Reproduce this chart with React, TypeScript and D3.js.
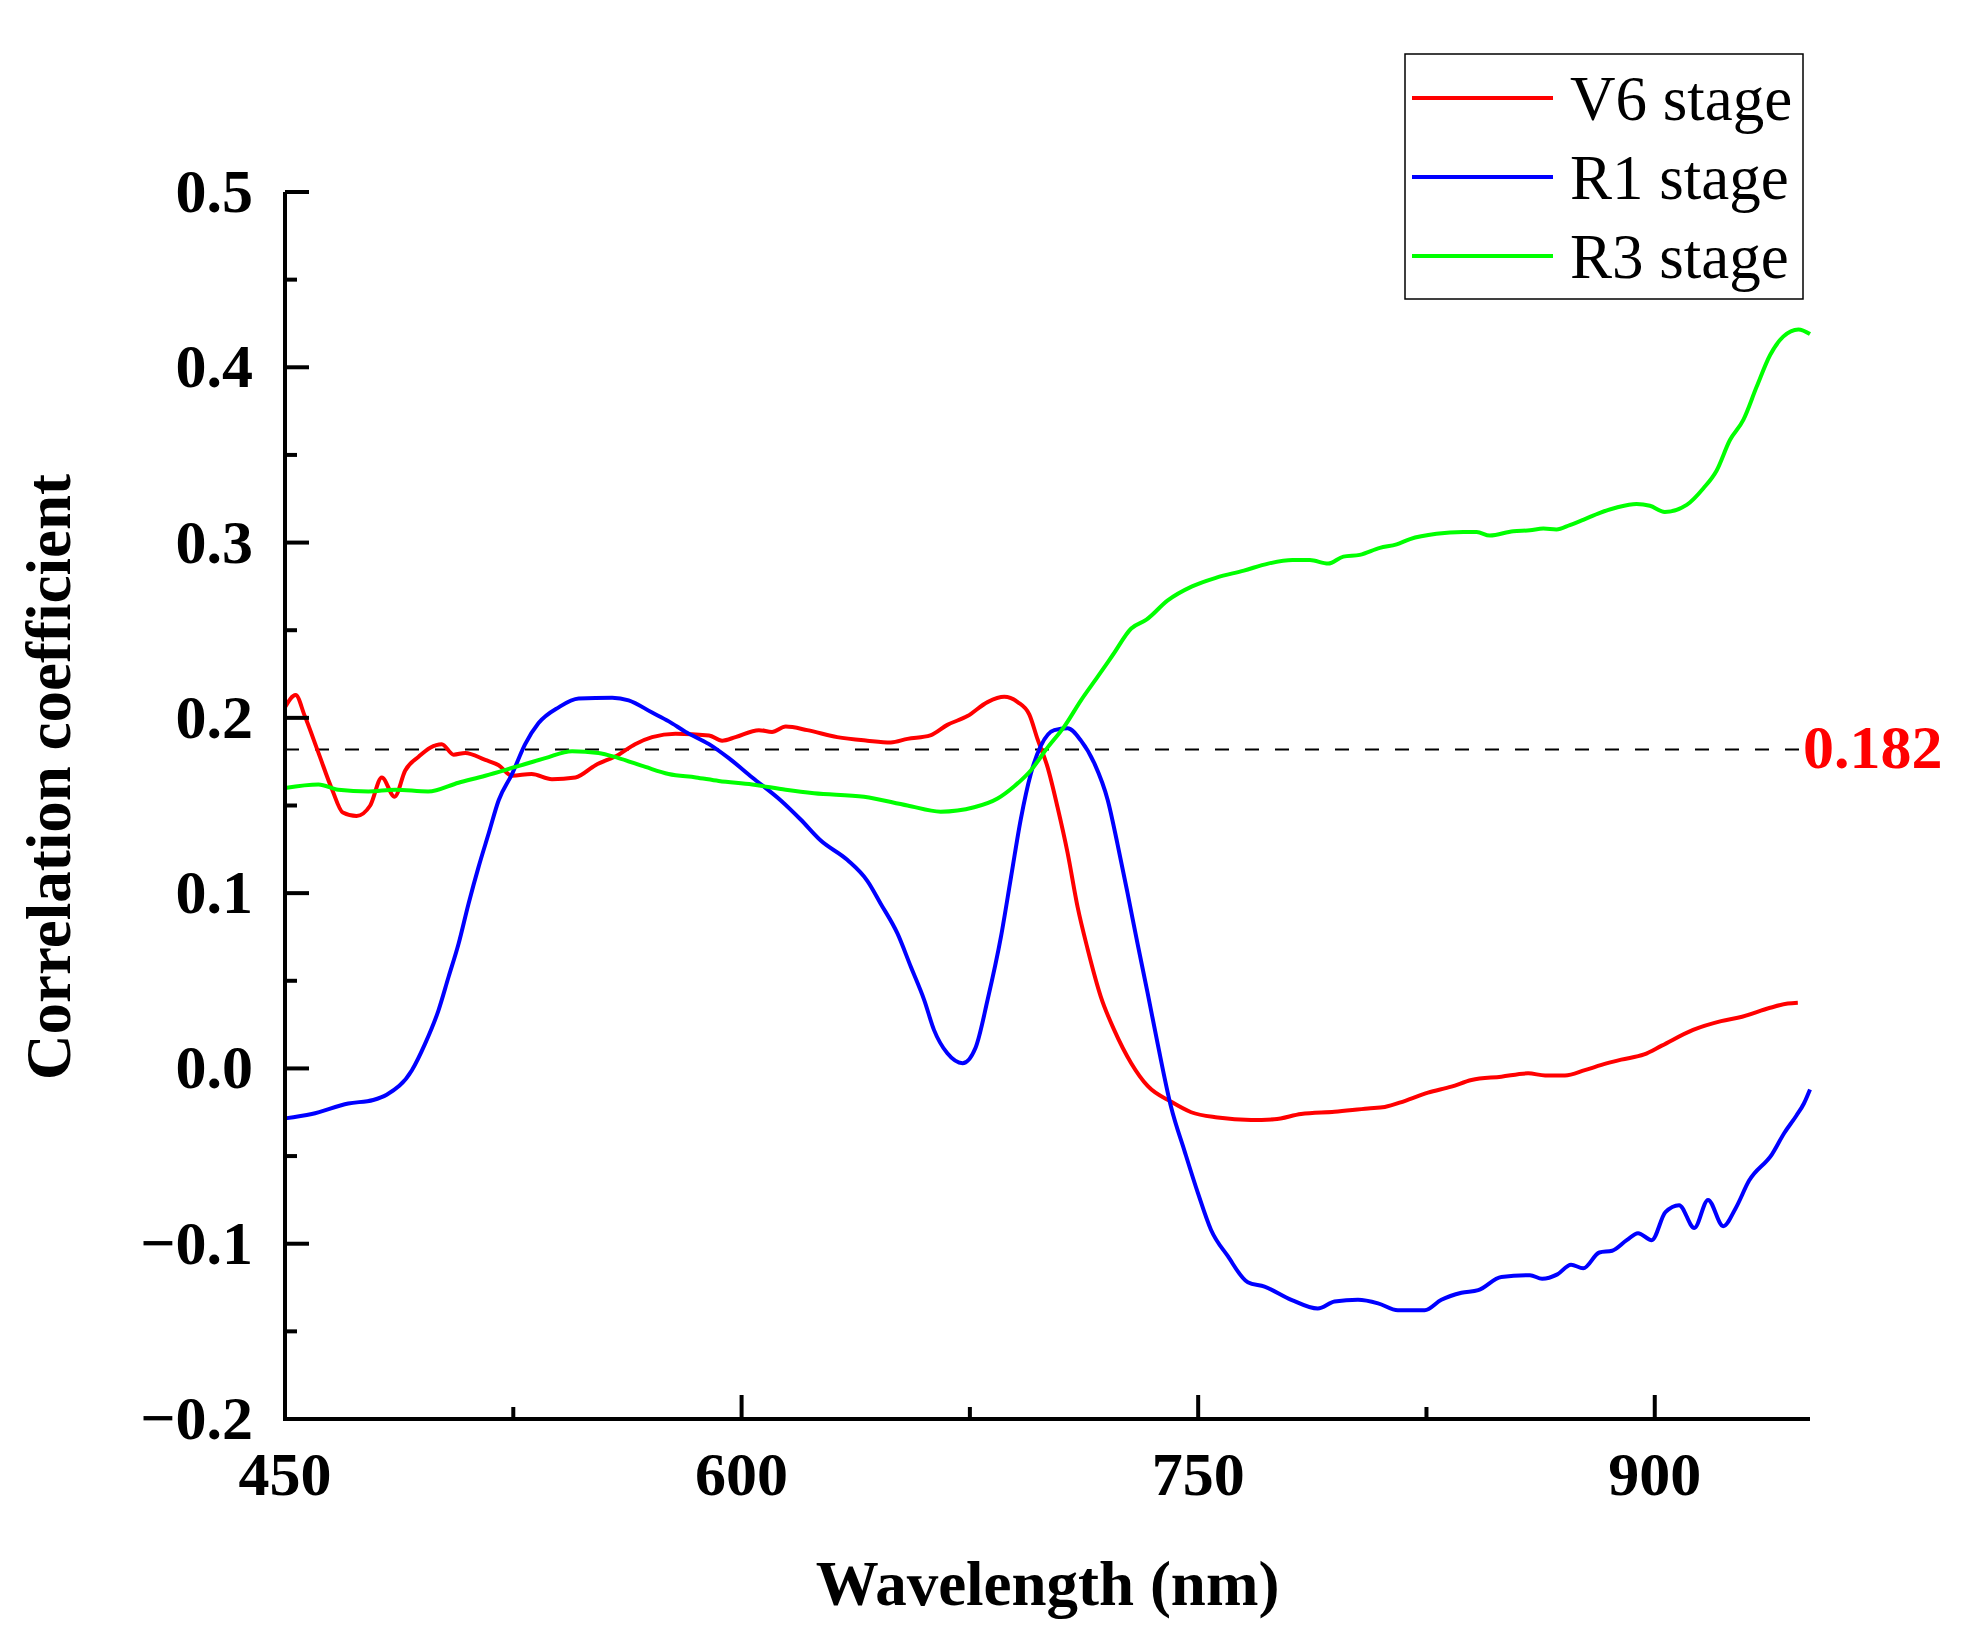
import React, { useEffect, useRef } from 'react';
import * as d3 from 'd3';

// [wavelength (nm), correlation coefficient]
const v6Stage: [number, number][] = [
  [450, 0.206], [453.5, 0.213], [456.5, 0.201], [461, 0.18], [465.5, 0.159], [469, 0.146],
  [473.5, 0.144], [478, 0.15], [481.8, 0.166], [486, 0.155], [489.5, 0.17], [494, 0.178],
  [497.7, 0.183], [501.5, 0.185], [505.4, 0.179], [509.2, 0.18], [515.8, 0.176], [520.2, 0.173],
  [524.6, 0.167], [531, 0.168], [537.7, 0.165], [545.4, 0.166], [552, 0.173], [559.6, 0.179],
  [565, 0.185], [570.6, 0.189], [578.3, 0.191], [589.3, 0.19], [593.6, 0.187], [598, 0.189],
  [605.7, 0.193], [610, 0.192], [614.5, 0.195], [621.6, 0.193], [631.4, 0.189], [641.3, 0.187],
  [649, 0.186], [654.5, 0.188], [662, 0.19], [667.6, 0.196], [674.2, 0.201], [680.8, 0.209],
  [686.3, 0.212], [690.7, 0.209], [694.5, 0.202], [697.2, 0.188], [700.5, 0.172], [703.8, 0.149],
  [707.1, 0.123], [710.4, 0.092], [713.7, 0.068], [718, 0.041], [722.4, 0.022], [728, 0.003],
  [733.4, -0.01], [741.1, -0.019], [747.7, -0.025], [756.4, -0.028], [767.4, -0.0294], [775, -0.029],
  [783.8, -0.026], [794.8, -0.0247], [805.8, -0.0228], [811.3, -0.022], [817.8, -0.0186],
  [825.5, -0.0138], [833.2, -0.0104], [839.8, -0.0066], [849.6, -0.0047], [858.4, -0.0028],
  [864, -0.004], [870.5, -0.004], [877, -0.001], [882.5, 0.002], [889, 0.005], [896.5, 0.008],
  [902.3, 0.013], [912.6, 0.022], [921.8, 0.027], [928.7, 0.0295], [937.9, 0.0346], [943.7, 0.037],
  [947, 0.0375],
];

const r1Stage: [number, number][] = [
  [450, -0.0285], [458.8, -0.026], [470.8, -0.02], [479, -0.018], [483.4, -0.015], [491.7, -0.001],
  [496, 0.014], [500.4, 0.033], [503.7, 0.052], [507, 0.071], [510.3, 0.094], [513.6, 0.115],
  [516.9, 0.134], [520.2, 0.153], [524.6, 0.168], [528.9, 0.185], [533.3, 0.197], [539.9, 0.206],
  [546.5, 0.211], [557.5, 0.2115], [562.9, 0.21], [570.6, 0.203], [576.1, 0.198], [581.6, 0.192],
  [589.3, 0.185], [595.8, 0.177], [603.5, 0.166], [612.8, 0.153], [619.4, 0.142], [626, 0.13],
  [634.7, 0.119], [641.3, 0.107], [645.7, 0.094], [651.2, 0.077], [655.6, 0.058], [660, 0.039],
  [663.2, 0.022], [667.6, 0.0086], [672.6, 0.003], [676.9, 0.012], [680.8, 0.039], [685.2, 0.075],
  [688.5, 0.109], [691.7, 0.142], [695, 0.168], [698.3, 0.184], [702.7, 0.193], [707.1, 0.194],
  [711.5, 0.187], [715.9, 0.174], [720.3, 0.153], [723.5, 0.128], [726.8, 0.1], [730.1, 0.071],
  [733.4, 0.043], [736.7, 0.014], [741.1, -0.022], [745.5, -0.047], [749.9, -0.071], [754.2, -0.092],
  [759.7, -0.107], [766.3, -0.122], [771.8, -0.1245], [780.6, -0.132], [789.3, -0.137],
  [794.8, -0.133], [802.5, -0.132], [809.1, -0.134], [815.6, -0.138], [824.4, -0.138],
  [829.9, -0.132], [836.5, -0.128], [842, -0.1265], [849.6, -0.119], [859, -0.118], [863, -0.12],
  [868, -0.1175], [872.5, -0.112], [876.5, -0.114], [881.8, -0.105], [886, -0.104], [890.8, -0.098],
  [894.5, -0.094], [899, -0.098], [903.5, -0.082], [908, -0.078], [913, -0.091], [917.5, -0.075],
  [922.5, -0.09], [926.5, -0.08], [931, -0.064], [938.5, -0.049], [942.5, -0.037], [946.5, -0.027],
  [949, -0.02], [951, -0.012],
];

const r3Stage: [number, number][] = [
  [450, 0.16], [461, 0.162], [467.5, 0.159], [477.4, 0.158], [486.2, 0.159], [497, 0.158],
  [507, 0.163], [515.8, 0.167], [525.7, 0.172], [535.5, 0.177], [544.3, 0.181], [553, 0.18],
  [559.6, 0.177], [568.4, 0.172], [576, 0.168], [585, 0.166], [592.5, 0.164], [603.5, 0.162],
  [614.5, 0.159], [623.8, 0.157], [640.2, 0.155], [654.5, 0.15], [665.4, 0.1465], [676.4, 0.149],
  [684.1, 0.154], [689.6, 0.161], [695, 0.17], [700.5, 0.183], [706, 0.195], [711.5, 0.21],
  [717, 0.2235], [722, 0.236], [728, 0.251], [733, 0.256], [740, 0.267], [748, 0.275], [756, 0.28],
  [765, 0.284], [773, 0.288], [781, 0.29], [786.7, 0.29], [792.7, 0.288], [797.7, 0.292],
  [803.1, 0.293], [809.7, 0.297], [815.2, 0.299], [819.6, 0.302], [828.3, 0.305], [837.1, 0.306],
  [841.5, 0.306], [845.8, 0.304], [853.5, 0.3065], [859, 0.307], [863.4, 0.308], [867.7, 0.3075],
  [872.1, 0.31], [876.5, 0.313], [882, 0.317], [887.5, 0.32], [894, 0.322], [898.4, 0.321],
  [903.3, 0.3175], [910.5, 0.3215], [916, 0.331], [920.3, 0.341], [924.7, 0.3585], [929.1, 0.37],
  [933.5, 0.389], [937.9, 0.407], [942.2, 0.4175], [947.2, 0.4216], [951, 0.419],
];

const seriesNames = ['V6 stage', 'R1 stage', 'R3 stage'];
const seriesColors = ['#ff0000', '#0000ff', '#00ff00'];
const xTicks = [450, 600, 750, 900];
const xMinorTicks = [525, 675, 825];
const yTicks = [-0.2, -0.1, 0.0, 0.1, 0.2, 0.3, 0.4, 0.5];
const yMinorTicks = [-0.15, -0.05, 0.05, 0.15, 0.25, 0.35, 0.45];
const threshold = 0.182;

const FONT = '"Liberation Serif", "Times New Roman", serif';

const App: React.FC = () => {
  const svgRef = useRef<SVGSVGElement>(null);

  useEffect(() => {
    if (!svgRef.current) return;
    const svg = d3.select(svgRef.current);
    svg.selectAll('*').remove();

    const left = 285, right = 1810, top = 192, bottom = 1419;
    const x = d3.scaleLinear().domain([450, 951]).range([left, right]);
    const y = d3.scaleLinear().domain([-0.2, 0.5]).range([bottom, top]);

    // threshold line
    svg.append('line')
      .attr('x1', left).attr('x2', right)
      .attr('y1', y(threshold)).attr('y2', y(threshold))
      .attr('stroke', '#000').attr('stroke-width', 2)
      .attr('stroke-dasharray', '14,16');

    svg.append('text')
      .attr('x', right - 7).attr('y', y(threshold) + 19)
      .attr('font-family', FONT).attr('font-weight', 'bold')
      .attr('font-size', 62).attr('fill', '#ff0000')
      .text(threshold.toFixed(3));

    // curves
    const line = d3.line<[number, number]>()
      .x(d => x(d[0]))
      .y(d => y(d[1]))
      .curve(d3.curveMonotoneX);

    [v6Stage, r1Stage, r3Stage].forEach((data, i) => {
      svg.append('path')
        .datum(data)
        .attr('fill', 'none')
        .attr('stroke', seriesColors[i])
        .attr('stroke-width', 4)
        .attr('stroke-linejoin', 'round')
        .attr('d', line);
    });

    // axes
    const axes = svg.append('g').attr('stroke', '#000');
    axes.append('line')
      .attr('x1', left).attr('x2', left).attr('y1', top).attr('y2', bottom + 2)
      .attr('stroke-width', 4);
    axes.append('line')
      .attr('x1', left - 2).attr('x2', right).attr('y1', bottom).attr('y2', bottom)
      .attr('stroke-width', 4);

    axes.selectAll('.ymaj').data(yTicks).enter().append('line')
      .attr('x1', left).attr('x2', left + 24)
      .attr('y1', d => y(d)).attr('y2', d => y(d))
      .attr('stroke-width', 4);
    axes.selectAll('.ymin').data(yMinorTicks).enter().append('line')
      .attr('x1', left).attr('x2', left + 12)
      .attr('y1', d => y(d)).attr('y2', d => y(d))
      .attr('stroke-width', 4);
    axes.selectAll('.xmaj').data(xTicks).enter().append('line')
      .attr('x1', d => x(d)).attr('x2', d => x(d))
      .attr('y1', bottom).attr('y2', bottom - 24)
      .attr('stroke-width', 4);
    axes.selectAll('.xmin').data(xMinorTicks).enter().append('line')
      .attr('x1', d => x(d)).attr('x2', d => x(d))
      .attr('y1', bottom).attr('y2', bottom - 12)
      .attr('stroke-width', 4);

    // tick labels
    svg.selectAll('.ylab').data(yTicks).enter().append('text')
      .attr('x', left - 32).attr('y', d => y(d) + 20)
      .attr('text-anchor', 'end')
      .attr('font-family', FONT).attr('font-weight', 'bold').attr('font-size', 62)
      .text(d => (d < 0 ? '\u2212' : '') + Math.abs(d).toFixed(1));

    svg.selectAll('.xlab').data(xTicks).enter().append('text')
      .attr('x', d => x(d)).attr('y', 1495)
      .attr('text-anchor', 'middle')
      .attr('font-family', FONT).attr('font-weight', 'bold').attr('font-size', 62)
      .text(d => String(d));

    // axis titles
    svg.append('text')
      .attr('x', (left + right) / 2).attr('y', 1605)
      .attr('text-anchor', 'middle')
      .attr('font-family', FONT).attr('font-weight', 'bold').attr('font-size', 63)
      .text('Wavelength (nm)');

    svg.append('text')
      .attr('transform', 'translate(70,777) rotate(-90)')
      .attr('text-anchor', 'middle')
      .attr('font-family', FONT).attr('font-weight', 'bold').attr('font-size', 63)
      .text('Correlation coefficient');

    // legend
    const legend = svg.append('g');
    legend.append('rect')
      .attr('x', 1405).attr('y', 54).attr('width', 398).attr('height', 245)
      .attr('fill', '#fff').attr('stroke', '#000').attr('stroke-width', 1.5);
    seriesNames.forEach((name, i) => {
      const ly = 98 + i * 79;
      legend.append('line')
        .attr('x1', 1412).attr('x2', 1553).attr('y1', ly).attr('y2', ly)
        .attr('stroke', seriesColors[i]).attr('stroke-width', 4);
      legend.append('text')
        .attr('x', 1570).attr('y', ly + 22)
        .attr('font-family', FONT).attr('font-size', 63)
        .text(name);
    });
  }, []);

  return (
    <svg
      ref={svgRef}
      width={1988}
      height={1650}
      style={{ position: 'absolute', left: 0, top: 0, background: '#fff' }}
    />
  );
};

export default App;
